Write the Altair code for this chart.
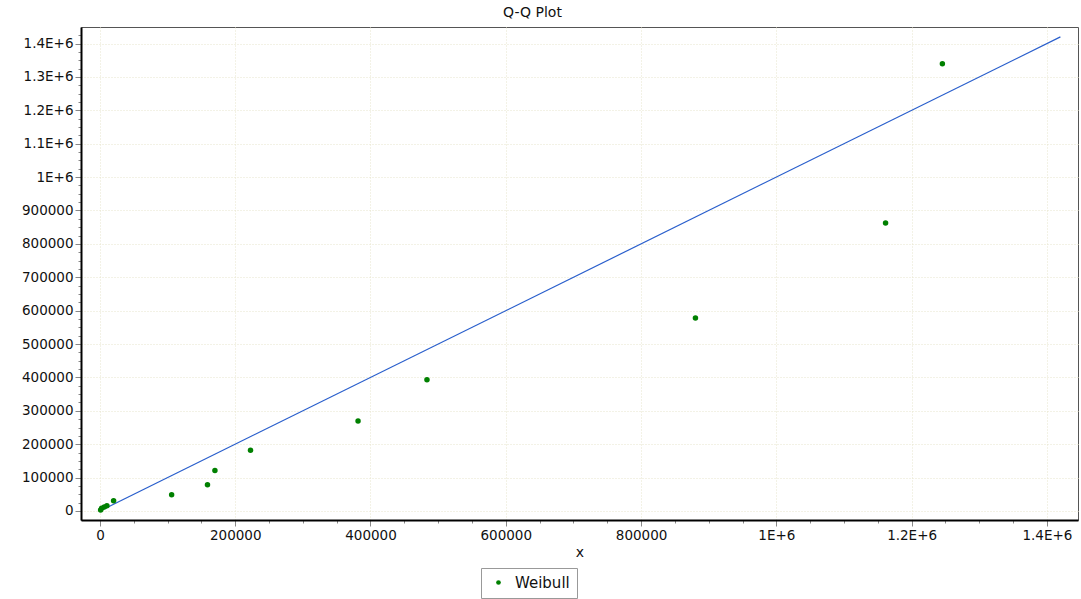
import altair as alt
import pandas as pd

# Data
sample_x = [1000, 2500, 6400, 10300, 20200, 106000, 159000, 170000, 222600,
            381600, 483500, 880400, 1161500, 1245500]
sample_y = [3000, 8000, 12000, 16000, 30800, 48700, 78500, 121000, 182000,
            269600, 393000, 578000, 862500, 1339500]
ref_x = [3000, 1420000]
ref_y = [3000, 1420000]
series_name = "Weibull"
x_domain = [-28000, 1446000]
y_domain = [-27000, 1449600]
x_tick_values = list(range(0, 1400001, 50000))
y_tick_values = list(range(0, 1425001, 25000))

pts = pd.DataFrame({"x": sample_x, "y": sample_y, "series": series_name})
ref = pd.DataFrame({"x": ref_x, "y": ref_y})

FONT = "DejaVu Sans"

label_expr_x = ("datum.value % 200000 !== 0 ? '' : (datum.value >= 1000000 ? "
                "format(datum.value / 1000000, '') + 'E+6' : format(datum.value, 'd'))")
label_expr_y = ("datum.value % 100000 !== 0 ? '' : (datum.value >= 1000000 ? "
                "format(datum.value / 1000000, '') + 'E+6' : format(datum.value, 'd'))")

x_scale = alt.Scale(domain=x_domain, nice=False, zero=False)
y_scale = alt.Scale(domain=y_domain, nice=False, zero=False)

x_axis = alt.Axis(
    title="x", values=x_tick_values, labelExpr=label_expr_x,
    tickSize={"condition": {"test": "datum.value % 200000 === 0", "value": 6}, "value": 3},
    gridOpacity={"condition": {"test": "datum.value % 200000 === 0", "value": 1}, "value": 0},
    grid=True, gridColor="#e6e4cc", gridDash=[1, 2], gridWidth=1,
    domainColor="#000000", domainWidth=2, tickColor="#888888",
    labelFont=FONT, labelFontSize=13.5, labelColor="#111111", labelPadding=2,
    labelFlush=False, labelOverlap=False,
    titleFont=FONT, titleFontSize=14, titleFontWeight="normal", titleColor="#111111",
    titlePadding=4,
)
y_axis = alt.Axis(
    title=None, values=y_tick_values, labelExpr=label_expr_y,
    tickSize={"condition": {"test": "datum.value % 100000 === 0", "value": 6}, "value": 3},
    gridOpacity={"condition": {"test": "datum.value % 100000 === 0", "value": 1}, "value": 0},
    grid=True, gridColor="#e6e4cc", gridDash=[1, 2], gridWidth=1,
    domainColor="#000000", domainWidth=2, tickColor="#888888",
    labelFont=FONT, labelFontSize=13.5, labelColor="#111111", labelPadding=2,
    labelFlush=False, labelOverlap=False,
)

line = alt.Chart(ref).mark_line(color="#2a5fcc", strokeWidth=1.2, clip=True).encode(
    x=alt.X("x:Q", scale=x_scale, axis=x_axis),
    y=alt.Y("y:Q", scale=y_scale, axis=y_axis),
)

points = alt.Chart(pts).mark_point(filled=True, shape="circle", size=30, opacity=1).encode(
    x=alt.X("x:Q", scale=x_scale, axis=x_axis),
    y=alt.Y("y:Q", scale=y_scale, axis=y_axis),
    color=alt.Color("series:N", scale=alt.Scale(domain=[series_name], range=["#008000"]),
                    legend=alt.Legend(title=None, orient="none", legendX=400, legendY=541,
                                      strokeColor="#999999", fillColor="#ffffff",
                                      padding=7, symbolSize=22, symbolType="circle",
                                      labelFont=FONT, labelFontSize=15, labelColor="#111111",
                                      symbolOffset=3, labelOffset=9, columnPadding=10)),
)

chart = alt.layer(line, points).properties(
    width=997, height=493,
    autosize=alt.AutoSizeParams(type="none"),
    padding={"left": 81, "top": 27, "right": 3, "bottom": 79},
    background="#ffffff",
    title=alt.TitleParams("Q-Q Plot", font=FONT, fontSize=14, fontWeight="normal",
                          color="#111111", anchor="middle", dx=-47, offset=7),
).configure_view(stroke="#555555", strokeWidth=1)

chart.save("out.html", embed_options={"renderer": "svg", "actions": False})
